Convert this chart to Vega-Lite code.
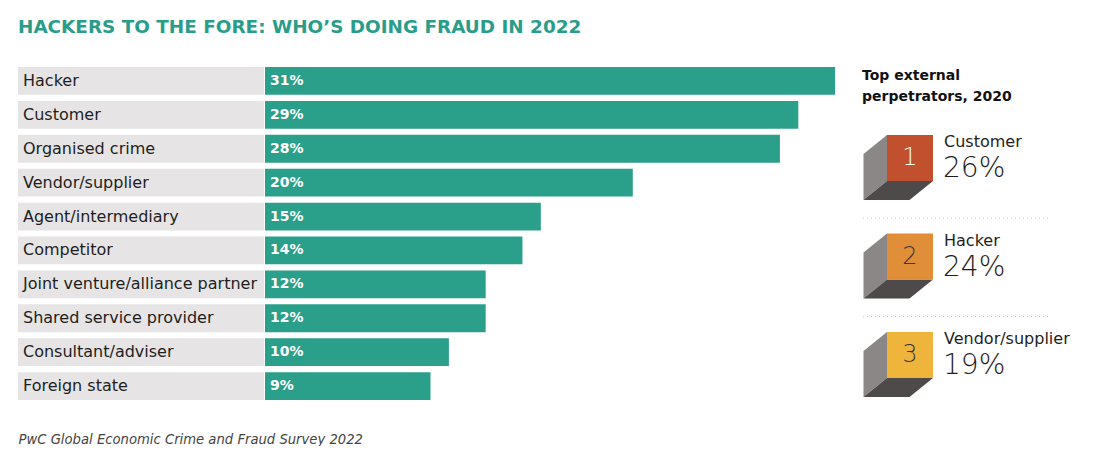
{
  "$schema": "https://vega.github.io/schema/vega-lite/v6.json",
  "background": "white",
  "padding": {"left": 18, "top": 17, "right": 0, "bottom": 0},
  "title": {"text": "HACKERS TO THE FORE: WHO’S DOING FRAUD IN 2022", "anchor": "start", "font": "DejaVu Sans", "fontSize": 18.4, "fontWeight": 700, "color": "#2a9d8a", "offset": 28},
  "config": {"view": {"stroke": null}, "font": "DejaVu Sans"},
  "spacing": 1,
  "bounds": "flush",
  "datasets": {
    "fraud2022": [
      {"perpetrator": "Hacker", "share": 0.31},
      {"perpetrator": "Customer", "share": 0.29},
      {"perpetrator": "Organised crime", "share": 0.28},
      {"perpetrator": "Vendor/supplier", "share": 0.20},
      {"perpetrator": "Agent/intermediary", "share": 0.15},
      {"perpetrator": "Competitor", "share": 0.14},
      {"perpetrator": "Joint venture/alliance partner", "share": 0.12},
      {"perpetrator": "Shared service provider", "share": 0.12},
      {"perpetrator": "Consultant/adviser", "share": 0.10},
      {"perpetrator": "Foreign state", "share": 0.09}
    ],
    "top2020": [
      {"rank": 1, "perpetrator": "Customer", "share": 0.26},
      {"rank": 2, "perpetrator": "Hacker", "share": 0.24},
      {"rank": 3, "perpetrator": "Vendor/supplier", "share": 0.19}
    ]
  },
  "hconcat": [
    {
      "width": 246, "height": 339,
      "data": {"name": "fraud2022"},
      "encoding": {
        "y": {"field": "perpetrator", "type": "nominal", "sort": null, "scale": {"paddingInner": 0.18, "paddingOuter": 0.09}, "axis": null}
      },
      "layer": [
        {
          "mark": {"type": "bar", "color": "#e6e4e4"},
          "encoding": {
            "x": {"datum": 1, "type": "quantitative", "scale": {"domain": [0, 1], "nice": false},
              "axis": {"title": "PwC Global Economic Crime and Fraud Survey 2022", "labels": false, "ticks": false, "domain": false, "grid": false,
                "titleAnchor": "start", "titleAlign": "left", "titleFont": "DejaVu Sans", "titleFontStyle": "italic", "titleFontWeight": 400,
                "titleFontSize": 13.2, "titleColor": "#444444", "titlePadding": 30, "titleLimit": 600}}
          }
        },
        {
          "mark": {"type": "text", "align": "left", "dx": 5, "fontSize": 16, "color": "#1e1e1e"},
          "encoding": {
            "x": {"datum": 0, "type": "quantitative"},
            "text": {"field": "perpetrator"}
          }
        }
      ]
    },
    {
      "width": 596, "height": 339,
      "data": {"name": "fraud2022"},
      "encoding": {
        "y": {"field": "perpetrator", "type": "nominal", "sort": null, "scale": {"paddingInner": 0.18, "paddingOuter": 0.09}, "axis": null}
      },
      "layer": [
        {
          "mark": {"type": "bar", "color": "#2aa08a"},
          "encoding": {
            "x": {"field": "share", "type": "quantitative", "scale": {"domain": [0, 0.3241], "nice": false}, "axis": null}
          }
        },
        {
          "mark": {"type": "text", "align": "left", "dx": 5, "fontSize": 14, "fontWeight": 700, "color": "white"},
          "encoding": {
            "x": {"datum": 0, "type": "quantitative"},
            "text": {"field": "share", "format": ".0%"}
          }
        }
      ]
    },
    {
      "width": 246, "height": 339,
      "data": {"name": "top2020"},
      "encoding": {
        "y": {"field": "rank", "type": "quantitative", "scale": {"domain": [0.0457, 3.487], "reverse": true, "nice": false, "zero": false}, "axis": null}
      },
      "layer": [
        {
          "data": {"values": [{"heading": ["Top external", "perpetrators, 2020"]}]},
          "mark": {"type": "text", "align": "left", "baseline": "top", "fontSize": 14, "fontWeight": 700, "color": "#111111", "lineHeight": 21},
          "encoding": {"x": {"value": 0}, "y": {"value": 5}, "text": {"field": "heading"}}
        },
        {
          "transform": [{"filter": "datum.rank <= 2"}],
          "mark": {"type": "rule", "yOffset": 60, "color": "#c8c8c8", "strokeDash": [1, 3], "strokeWidth": 1},
          "encoding": {"x": {"value": 1}, "x2": {"value": 186}}
        },
        {
          "mark": {"type": "point", "shape": "M-0.46,-0.46L-0.46,0.46L-0.93,0.84L-0.93,-0.08Z", "size": 10000, "filled": true, "opacity": 1, "color": "#8a8786", "strokeWidth": 0},
          "encoding": {"x": {"value": 48}}
        },
        {
          "mark": {"type": "point", "shape": "M-0.46,0.46L0.46,0.46L-0.01,0.84L-0.93,0.84Z", "size": 10000, "filled": true, "opacity": 1, "color": "#4e4a49", "strokeWidth": 0},
          "encoding": {"x": {"value": 48}}
        },
        {
          "mark": {"type": "point", "shape": "M-0.46,-0.46L0.46,-0.46L0.46,0.46L-0.46,0.46Z", "size": 10000, "filled": true, "opacity": 1, "strokeWidth": 0},
          "encoding": {
            "x": {"value": 48},
            "color": {"field": "rank", "type": "nominal", "scale": {"domain": [1, 2, 3], "range": ["#c1502e", "#e08e37", "#efb43c"]}, "legend": null}
          }
        },
        {
          "mark": {"type": "text", "align": "center", "baseline": "middle", "fontSize": 24, "fontWeight": 300},
          "encoding": {
            "x": {"value": 48},
            "text": {"field": "rank"},
            "color": {"condition": {"test": "datum.rank == 1", "value": "white"}, "value": "#3a3a3a"}
          }
        },
        {
          "mark": {"type": "text", "align": "left", "baseline": "middle", "dy": -16, "fontSize": 16, "color": "#1e1e1e"},
          "encoding": {"x": {"value": 82}, "text": {"field": "perpetrator"}}
        },
        {
          "mark": {"type": "text", "align": "left", "baseline": "middle", "dy": 11, "fontSize": 28, "fontWeight": 300, "color": "#1e1e1e"},
          "encoding": {"x": {"value": 81}, "text": {"field": "share", "format": ".0%"}}
        }
      ]
    }
  ]
}
